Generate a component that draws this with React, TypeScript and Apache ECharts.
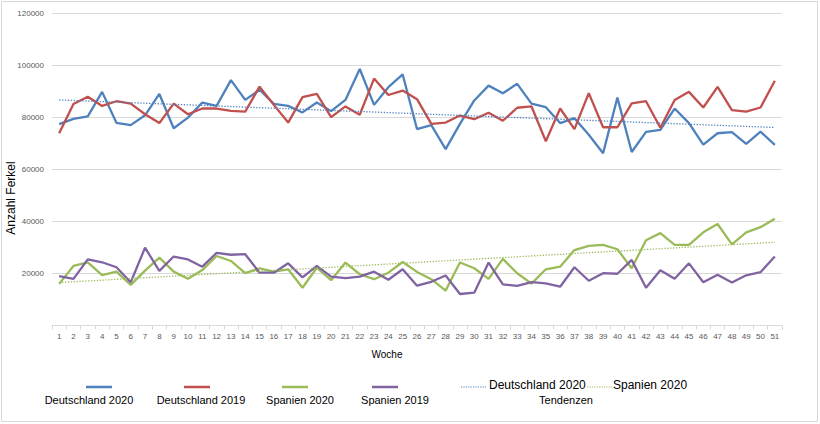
import React, { useEffect, useRef } from 'react';
import * as echarts from 'echarts';

const weeks = ['1','2','3','4','5','6','7','8','9','10','11','12','13','14','15','16','17','18','19','20','21','22','23','24','25','26','27','28','29','30','31','32','33','34','35','36','37','38','39','40','41','42','43','44','45','46','47','48','49','50','51'];

const deutschland2020 = [77400,79400,80400,89800,77900,77000,80800,89000,75800,79900,85700,84400,94300,86700,90600,85200,84400,81900,85700,82400,86700,98600,84800,91600,96500,75500,77000,67800,77500,86500,92200,89300,92900,85300,83900,77800,79700,73300,66200,87600,66700,74400,75200,83400,77800,69500,73900,74300,69800,74500,69400];
const deutschland2019 = [73900,85100,87900,84400,86200,85300,81200,77800,85300,81200,83400,83400,82500,82200,91800,84800,78000,87800,89000,80100,84200,81000,94900,88600,90300,87000,77500,78000,80700,79300,81800,78700,83700,84200,70800,83400,75500,89300,76200,76200,85400,86200,76000,86700,89800,83800,91700,82800,82200,83800,94100];
const spanien2020 = [16000,22900,24300,19400,20700,15600,21100,26100,20700,18000,21300,26700,24800,20100,22000,20700,21600,14500,22200,17400,24200,19700,17800,20300,24400,20600,17800,13400,24200,22000,17900,25600,20100,16100,21600,22600,29000,30600,31000,29300,22000,32800,35500,31000,31000,35800,39000,31200,35800,37800,41000];
const spanien2019 = [19000,17900,25400,24300,22400,16600,29900,21000,26500,25400,22600,27900,27200,27400,20300,20300,23900,18500,22900,18800,18200,18800,20700,17600,21600,15300,16800,19200,12100,12600,24200,15800,15200,16700,16200,14900,22400,17200,20100,19900,25200,14500,21200,18000,23900,16600,19500,16500,19300,20500,26500];

// Trend lines (endpoints: week 1 and week 51)
const trendDeutschland2020 = [86700, 76100];
const trendSpanien2020 = [16500, 32000];

const yTicks = [0, 20000, 40000, 60000, 80000, 100000, 120000];

const seriesNames = ['Deutschland 2020', 'Deutschland 2019', 'Spanien 2020', 'Spanien 2019'];
const trendNames = ['Deutschland 2020', 'Spanien 2020'];
const colors = ['#4f81bd', '#c0504d', '#9bbb59', '#8064a2'];

const FONT = '"Liberation Sans", Arial, sans-serif';

export default function App() {
  const ref = useRef<HTMLDivElement>(null);
  useEffect(() => {
    document.body.style.margin = '0';
    if (!ref.current) return;
    const chart = echarts.init(ref.current, null, { renderer: 'svg' });
    const seriesData = [deutschland2020, deutschland2019, spanien2020, spanien2019];

    const legendX = [86, 184, 282, 372];
    const legendTextX = [89, 201, 300, 395];
    const graphic: any[] = [
      {
        type: 'rect',
        shape: { x: 1.5, y: 1.5, width: 816, height: 420 },
        style: { fill: 'none', stroke: '#d9d9d9', lineWidth: 1 },
        silent: true,
      },
      {
        type: 'text',
        x: 11,
        y: 198,
        rotation: Math.PI / 2,
        style: { text: 'Anzahl Ferkel', font: `12px ${FONT}`, fill: '#000', align: 'center', verticalAlign: 'middle' },
      },
      {
        type: 'text',
        x: 387,
        y: 354,
        style: { text: 'Woche', font: `10px ${FONT}`, fill: '#000', align: 'center', verticalAlign: 'middle' },
      },
    ];
    seriesNames.forEach((n, i) => {
      graphic.push({
        type: 'line',
        shape: { x1: legendX[i], y1: 387, x2: legendX[i] + 26, y2: 387 },
        style: { stroke: colors[i], lineWidth: 2.5 },
      });
      graphic.push({
        type: 'text',
        x: legendTextX[i],
        y: 400,
        style: { text: n, font: `11px ${FONT}`, fill: '#000', align: 'center', verticalAlign: 'middle' },
      });
    });
    const trendLineX = [461, 587];
    const trendTextX = [489, 613];
    const trendColors = [colors[0], colors[2]];
    trendNames.forEach((n, i) => {
      graphic.push({
        type: 'line',
        shape: { x1: trendLineX[i], y1: 387, x2: trendLineX[i] + 25, y2: 387 },
        style: { stroke: trendColors[i], lineWidth: 1.2, lineDash: [1.2, 1.2] },
      });
      graphic.push({
        type: 'text',
        x: trendTextX[i],
        y: 385,
        style: { text: n, font: `12px ${FONT}`, fill: '#000', align: 'left', verticalAlign: 'middle' },
      });
    });
    graphic.push({
      type: 'text',
      x: 566,
      y: 400,
      style: { text: 'Tendenzen', font: `11px ${FONT}`, fill: '#000', align: 'center', verticalAlign: 'middle' },
    });

    const series: any[] = seriesNames.map((n, i) => ({
      name: n,
      type: 'line',
      data: seriesData[i],
      symbol: 'none',
      showSymbol: false,
      lineStyle: { color: colors[i], width: 2.3 },
      itemStyle: { color: colors[i] },
      z: 2,
    }));
    series.push({
      name: 'Trend Deutschland 2020',
      type: 'line',
      data: [[weeks[0], trendDeutschland2020[0]], [weeks[weeks.length - 1], trendDeutschland2020[1]]],
      symbol: 'none',
      lineStyle: { color: colors[0], width: 1.3, type: [1.3, 1.6] },
      z: 3,
    });
    series.push({
      name: 'Trend Spanien 2020',
      type: 'line',
      data: [[weeks[0], trendSpanien2020[0]], [weeks[weeks.length - 1], trendSpanien2020[1]]],
      symbol: 'none',
      lineStyle: { color: colors[2], width: 1.3, type: [1.3, 1.6] },
      z: 3,
    });

    chart.setOption({
      animation: false,
      backgroundColor: '#fff',
      grid: { left: 52, right: 38, top: 13.3, bottom: 98.5, containLabel: false },
      xAxis: {
        type: 'category',
        data: weeks,
        boundaryGap: true,
        axisLine: { show: true, lineStyle: { color: '#d9d9d9', width: 1 } },
        axisTick: { show: true, length: 4, lineStyle: { color: '#d9d9d9' } },
        axisLabel: { interval: 0, color: '#595959', fontSize: 8, fontFamily: FONT, margin: 7 },
        splitLine: { show: false },
      },
      yAxis: {
        type: 'value',
        min: yTicks[0],
        max: yTicks[yTicks.length - 1],
        interval: 20000,
        axisLine: { show: false },
        axisTick: { show: false },
        axisLabel: {
          color: '#595959',
          fontSize: 8,
          fontFamily: FONT,
          margin: 8,
          formatter: (v: number) => (v === 0 ? '' : String(v)),
        },
        splitLine: { show: true, lineStyle: { color: '#d9d9d9', width: 1 } },
      },
      graphic,
      series,
    });
    return () => chart.dispose();
  }, []);
  return <div ref={ref} style={{ width: 820, height: 424 }} />;
}
